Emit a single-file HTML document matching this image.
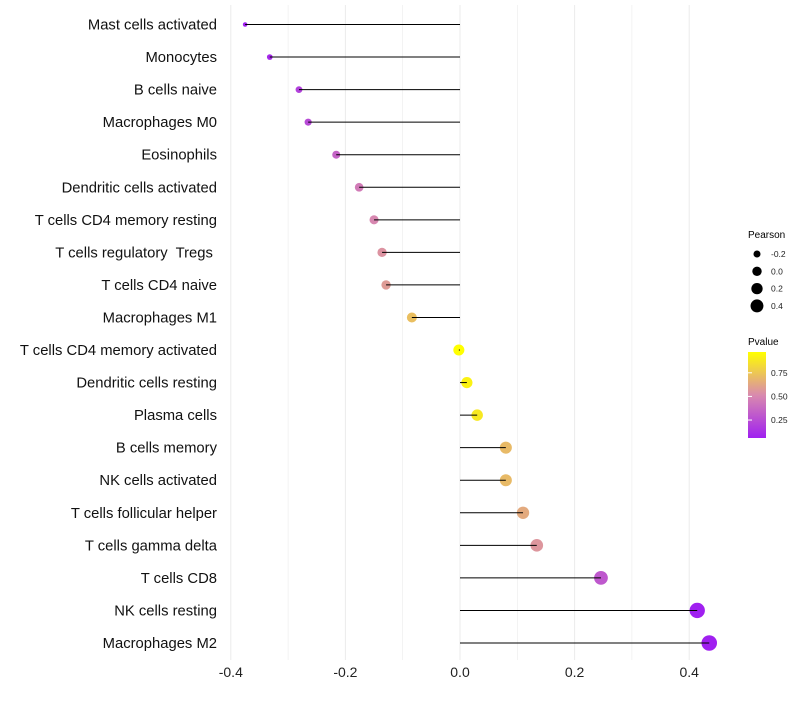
<!DOCTYPE html>
<html><head><meta charset="utf-8"><style>
body{margin:0;background:#fff;font-family:"Liberation Sans",sans-serif}
svg text{font-family:"Liberation Sans",sans-serif;white-space:pre}
</style></head><body>
<svg id="chart" width="800" height="700" xmlns="http://www.w3.org/2000/svg">
<g id="grid"></g>
<g id="marks"></g>
<g id="ylabels"></g>
<g id="xlabels"></g>
<g id="legend">
<defs><linearGradient id="pg" x1="0" y1="1" x2="0" y2="0">
<stop offset="0" stop-color="#A020F0"/><stop offset="0.5" stop-color="#D98AAE"/><stop offset="1" stop-color="#FFFF00"/></linearGradient></defs>
<text x="748" y="238" font-size="10">Pearson</text>
<g id="sizeLegend"></g>
<text x="748" y="345" font-size="10">Pvalue</text>
<rect x="748" y="352" width="18" height="86" fill="url(#pg)"/>
<g id="colorLegend"></g>
</g>
</svg>
<script>
const categories=["Mast cells activated","Monocytes","B cells naive","Macrophages M0","Eosinophils","Dendritic cells activated","T cells CD4 memory resting","T cells regulatory  Tregs ","T cells CD4 naive","Macrophages M1","T cells CD4 memory activated","Dendritic cells resting","Plasma cells","B cells memory","NK cells activated","T cells follicular helper","T cells gamma delta","T cells CD8","NK cells resting","Macrophages M2"];
const pearson=[-0.375,-0.332,-0.281,-0.265,-0.216,-0.176,-0.150,-0.136,-0.129,-0.084,-0.002,0.012,0.030,0.080,0.080,0.110,0.134,0.246,0.414,0.435];
const pvalues=[0.06,0.10,0.20,0.24,0.35,0.45,0.50,0.55,0.58,0.72,0.99,0.92,0.88,0.70,0.70,0.64,0.56,0.30,0.06,0.05];
const xTicks=[-0.4,-0.2,0.0,0.2,0.4];
const sizeLegendValues=[-0.2,0.0,0.2,0.4];
const colorLegendValues=[0.25,0.50,0.75];
const NS="http://www.w3.org/2000/svg";
const xs=v=>460+v*573;
const ys=i=>24.5+i*(618.5/19);
const rs=v=>Math.sqrt(Math.max(2,30.7+68*v));
const pMin=0.06,pMax=0.97;
function lerp(a,b,t){return a.map((x,i)=>Math.round(x+(b[i]-x)*t));}
function col(p){let t=Math.min(1,Math.max(0,(p-pMin)/(pMax-pMin)));const A=[160,32,240],M=[217,138,174],B=[255,255,0];
 const c=t<0.5?lerp(A,M,t/0.5):lerp(M,B,(t-0.5)/0.5);return `rgb(${c})`;}
function mk(tag,attrs,parent){const e=document.createElementNS(NS,tag);for(const k in attrs)e.setAttribute(k,attrs[k]);document.getElementById(parent).appendChild(e);return e;}
for(let k=-0.4;k<=0.45;k+=0.1){
 const g=mk("line",{x1:xs(k),x2:xs(k),y1:5,y2:660,stroke:"#ebebeb","stroke-width":Math.abs(Math.round(k*10))%2===0?1:0.6},"grid");
 
 
}
xTicks.forEach(v=>{
 const t=mk("text",{x:xs(v),y:677,"font-size":14,"text-anchor":"middle",fill:"#222"},"xlabels");
 t.textContent=v.toFixed(1);
 
 
});
categories.forEach((c,i)=>{
 const y=ys(i);
 const t=mk("text",{x:217,y:y+5,"font-size":14.8,"text-anchor":"end",fill:"#111"},"ylabels");
 t.textContent=c;
 
 
 const p=mk("circle",{cx:xs(pearson[i]),cy:y,r:rs(pearson[i]),fill:col(pvalues[i])},"marks");
 
 
 const l=mk("line",{x1:xs(0),x2:xs(pearson[i]),y1:y,y2:y,stroke:"#000","stroke-width":1},"marks");
 
 
});
sizeLegendValues.forEach((v,i)=>{
 const y=254+i*17.3;
 const c=mk("circle",{cx:757,cy:y,r:rs(v)*0.85,fill:"#000"},"sizeLegend");
 
 
 const t=mk("text",{x:771,y:y+3,"font-size":8.5,fill:"#222"},"sizeLegend");
 t.textContent=v.toFixed(1);
 
 
});
colorLegendValues.forEach(v=>{
 const y=438-(v-pMin)/(pMax-pMin)*86;
 const t=mk("text",{x:771,y:y+3,"font-size":8.5,fill:"#222"},"colorLegend");
 t.textContent=v.toFixed(2);
 
 
 const l=mk("line",{x1:748,x2:752,y1:y,y2:y,stroke:"#fff"},"colorLegend");
 
 
});
</script>
</body></html>
